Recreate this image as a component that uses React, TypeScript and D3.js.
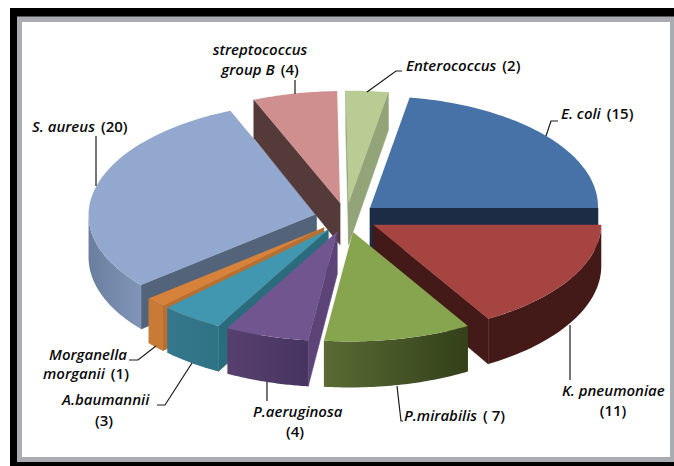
import React from "react";
import * as d3 from "d3";

// Isolates per organism, clockwise from the E. coli slice.
const organisms = [
  "E. coli", "K. pneumoniae", "P.mirabilis", "P.aeruginosa", "A.baumannii",
  "Morganella morganii", "S. aureus", "streptococcus group B", "Enterococcus",
];
const isolates = [15, 11, 7, 4, 3, 1, 20, 4, 2];

const topColors = ["#4672a8", "#a64441", "#87a54e", "#70558f", "#4197af", "#d6823a", "#92a8ce", "#cf8f8e", "#b9cc94"];
const cutColors = ["#1b2c44", "#431a18", "#334019", "#5c4478", "#2a6c7e", "#b86f30", "#52637a", "#553a3a", "#92a478"];
const wallFrom = ["#1b2c44", "#431a18", "#5a6b34", "#57406f", "#35778c", "#c97a35", "#8095b8", "#553a3a", "#92a478"];
const wallTo = ["#1b2c44", "#431a18", "#334019", "#473460", "#2f7386", "#c97a35", "#6a7e9e", "#553a3a", "#92a478"];

// Painter's order, back to front.
const paintOrder = [6, 7, 8, 0, 1, 5, 4, 3, 2];

const W = 674, H = 466;
const cx = 346.5, cy = 217.5, rx = 228, ryBack = 112, ryFront = 109.5;
const explode = 0.135;
const shear = 0.022;
const deg = Math.PI / 180;

const depthAt = d3.scaleLinear().domain([90, 340]).range([38, 46]).clamp(true);
const ry = (a: number) => (Math.cos(a) > 0 ? ryBack : ryFront);

const startAngle = 90 * deg - (isolates[0] / d3.sum(isolates)) * 2 * Math.PI;
const arcs = d3.pie<number>().sort(null).startAngle(startAngle).endAngle(startAngle + 2 * Math.PI)(isolates);

type P = [number, number];
const line = d3.line<P>();

function Slice({ i }: { i: number }) {
  const { startAngle: a0, endAngle: a1 } = arcs[i];
  const mid = (a0 + a1) / 2;
  const ox = cx + explode * rx * Math.sin(mid);
  const oy = cy - explode * ryFront * Math.cos(mid);
  const rim = (a: number): P => [
    ox + rx * Math.sin(a) + shear * ry(a) * Math.cos(a),
    oy - ry(a) * Math.cos(a),
  ];
  const down = (p: P): P => [p[0], p[1] + depthAt(p[1])];
  const arcPts = d3.range(0, 61).map((k) => rim(a0 + ((a1 - a0) * k) / 60));
  const apex: P = [ox, oy];

  const cutFace = (a: number) => {
    const c = rim(a);
    return line([apex, c, down(c), down(apex)]) + "Z";
  };
  // The outer wall only shows on the front half of the ellipse.
  const w0 = Math.max(a0, 90 * deg), w1 = Math.min(a1, 270 * deg);
  const wallPts = w1 > w0 ? d3.range(0, 41).map((k) => rim(w0 + ((w1 - w0) * k) / 40)) : [];
  const wall = wallPts.length ? line([...wallPts, ...wallPts.slice().reverse().map(down)]) + "Z" : null;

  const s = (a0 / deg) % 360, e = (a1 / deg) % 360;
  return (
    <g>
      <defs>
        <linearGradient id={`wall-${i}`} x1="0" x2="1" y1="0" y2="0">
          <stop offset="0" stopColor={i === 6 ? wallTo[i] : wallFrom[i]} />
          <stop offset="1" stopColor={i === 6 ? wallFrom[i] : wallTo[i]} />
        </linearGradient>
      </defs>
      {s > 180 && <path d={cutFace(a0)} fill={cutColors[i]} stroke={cutColors[i]} strokeWidth={0.6} />}
      {e < 180 && <path d={cutFace(a1)} fill={cutColors[i]} stroke={cutColors[i]} strokeWidth={0.6} />}
      {wall && <path d={wall} fill={`url(#wall-${i})`} />}
      <path d={line([apex, ...arcPts]) + "Z"} fill={topColors[i]} />
    </g>
  );
}

// Leader lines and label text blocks, placed by hand around the pie.
const leaders = [
  "M295 80V94", "M96 136V186", "M367 92L396 71H402", "M546 136L551 121H558",
  "M570 325V380", "M397 386L401 421H403", "M267 382V401", "M192 363L165 405H157", "M156 346L138 360H129",
];

function Name({ x, y, anchor, name, count }: { x: number; y: number; anchor?: string; name?: string; count?: string }) {
  return (
    <text x={x} y={y} textAnchor={anchor ?? "start"}>
      {name && <tspan fontStyle="italic">{name}</tspan>}
      {count && <tspan dx={name ? 6 : 0}>{count}</tspan>}
    </text>
  );
}

export default function App() {
  return (
    <svg width={W} height={H} viewBox={`0 0 ${W} ${H}`} style={{ position: "absolute", left: 0, top: 0, background: "#fff" }}>
      <rect x={10} y={8} width={W} height={H} fill="#000" />
      <rect x={17} y={16.5} width={W - 17} height={445.5} fill="#a9adb2" />
      <rect x={22} y={22} width={648} height={435} fill="#fff" />
      {paintOrder.map((i) => <Slice key={i} i={i} />)}
      <g fill="none" stroke="#1a1a1a" strokeWidth={1.2}>
        {leaders.map((d) => <path key={d} d={d} />)}
      </g>
      <g fontFamily="'Open Sans', sans-serif" fontWeight={600} fontSize={15} fill="#0a0a0a">
        <Name x={260} y={55} anchor="middle" name="streptococcus" />
        <Name x={260} y={75} anchor="middle" name="group B" count="(4)" />
        <Name x={32} y={132} name="S. aureus" count="(20)" />
        <Name x={406} y={71} name="Enterococcus" count="(2)" />
        <Name x={561} y={119} name="E. coli" count="(15)" />
        <Name x={562} y={396} name="K. pneumoniae" />
        <Name x={613} y={416} anchor="middle" count="(11)" />
        <Name x={404} y={421} name="P.mirabilis" count="( 7)" />
        <Name x={253} y={417} name="P.aeruginosa" />
        <Name x={295} y={437} anchor="middle" count="(4)" />
        <Name x={62} y={405} name="A.baumannii" />
        <Name x={104} y={426} anchor="middle" count="(3)" />
        <Name x={49} y={360} name="Morganella" />
        <Name x={43} y={379} name="morganii" count="(1)" />
      </g>
    </svg>
  );
}
